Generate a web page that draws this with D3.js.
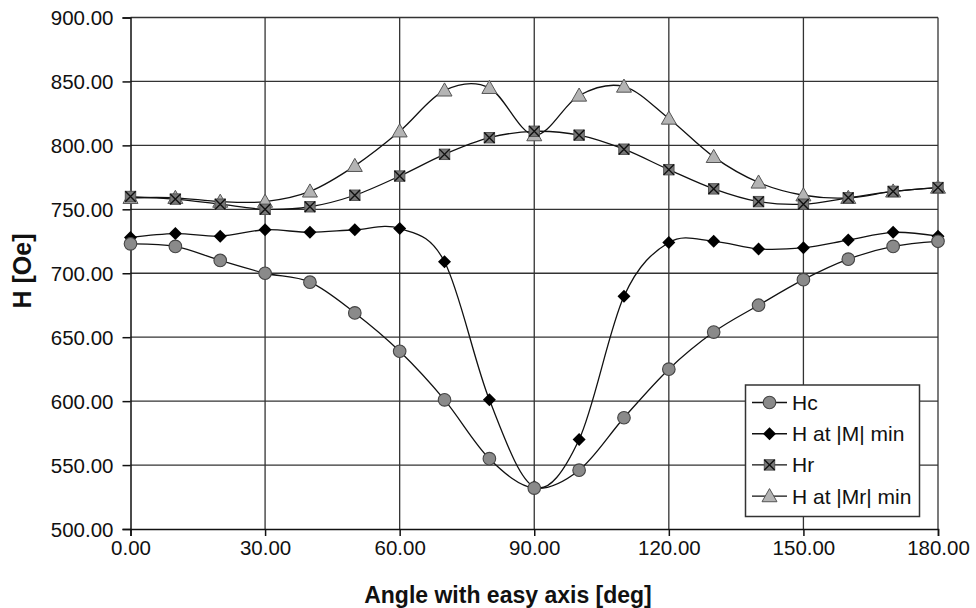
<!DOCTYPE html>
<html>
<head>
<meta charset="utf-8">
<script src="https://cdn.jsdelivr.net/npm/d3@7"></script>
<style>
html,body{margin:0;padding:0;background:#fff;}
svg{display:block;font-family:"Liberation Sans",Arial,sans-serif;}
</style>
</head>
<body>
<svg id="chart" width="976" height="608"></svg>
<script>
const angles = [0,10,20,30,40,50,60,70,80,90,100,110,120,130,140,150,160,170,180];
const Hc    = [723,721,710,700,693,669,639,601,555,532,546,587,625,654,675,695,711,721,725];
const HatM  = [728,731,729,734,732,734,735,709,601,533,570,682,724,725,719,720,726,732,729];
const Hr    = [760,758,754,750,752,761,776,793,806,811,808,797,781,766,756,754,759,764,767];
const HatMr = [759,759,756,756,764,784,811,843,845,808,839,846,821,791,771,761,759,764,767];
const xTicks = [0,30,60,90,120,150,180];
const yTicks = [500,550,600,650,700,750,800,850,900];
const seriesNames = ["Hc","H at |M| min","Hr","H at |Mr| min"];

const svg = d3.select("#chart");
const L = 130.5, R = 938, T = 17.5, B = 529;
const x = d3.scaleLinear().domain([0,180]).range([L,R]);
const y = d3.scaleLinear().domain([500,900]).range([B,T]);

// grid
const grid = svg.append("g");
grid.selectAll("line.h").data(yTicks.slice(1)).join("line")
  .attr("x1",L).attr("x2",R).attr("y1",d=>y(d)).attr("y2",d=>y(d))
  .attr("stroke","#333").attr("stroke-width",1.3);
grid.selectAll("line.v").data(xTicks.slice(1)).join("line")
  .attr("y1",T).attr("y2",B).attr("x1",d=>x(d)).attr("x2",d=>x(d))
  .attr("stroke","#333").attr("stroke-width",1.3);

// axes
const xAxis = d3.axisBottom(x).tickValues(xTicks).tickFormat(d3.format(".2f")).tickSize(7).tickPadding(4);
const yAxis = d3.axisLeft(y).tickValues(yTicks).tickFormat(d3.format(".2f")).tickSize(8).tickPadding(9);
const gx = svg.append("g").attr("transform",`translate(0,${B})`).call(xAxis);
const gy = svg.append("g").attr("transform",`translate(${L},0)`).call(yAxis);
[gx,gy].forEach(g=>{
  g.select(".domain").attr("stroke","#111").attr("stroke-width",1.5);
  g.selectAll(".tick line").attr("stroke","#111").attr("stroke-width",1.5);
  g.selectAll(".tick text").attr("fill","#111").style("font-size","20.5px").style("font-family","'Liberation Sans',Arial,sans-serif");
});
gy.selectAll(".tick text").attr("dy","0.35em");

// titles
svg.append("text").attr("x",508).attr("y",603).attr("text-anchor","middle")
  .style("font-size","23px").style("font-weight","bold").attr("fill","#111")
  .text("Angle with easy axis [deg]");
svg.append("text").attr("transform","translate(31,271) rotate(-90)").attr("text-anchor","middle")
  .style("font-size","25px").style("font-weight","bold").attr("fill","#111")
  .text("H [Oe]");

const line = d3.line().curve(d3.curveCardinal.tension(0)).x(d=>x(d[0])).y(d=>y(d[1]));
const mk = vals => angles.map((a,i)=>[a,vals[i]]);

function drawMarker(g, type, cx, cy){
  if(type==="circle"){
    g.append("circle").attr("cx",cx).attr("cy",cy).attr("r",6.3)
      .attr("fill","#8a8a8a").attr("stroke","#444").attr("stroke-width",1.1);
  } else if(type==="diamond"){
    const s=6.5;
    g.append("path").attr("d",`M${cx},${cy-s}L${cx+s},${cy}L${cx},${cy+s}L${cx-s},${cy}Z`)
      .attr("fill","#000");
  } else if(type==="square"){
    const s=5.2;
    g.append("rect").attr("x",cx-s).attr("y",cy-s).attr("width",2*s).attr("height",2*s)
      .attr("fill","#777").attr("stroke","#555").attr("stroke-width",1);
    g.append("path").attr("d",`M${cx-s},${cy-s}L${cx+s},${cy+s}M${cx+s},${cy-s}L${cx-s},${cy+s}`)
      .attr("stroke","#111").attr("stroke-width",1.4);
  } else if(type==="triangle"){
    const s=7.5;
    g.append("path").attr("d",`M${cx},${cy-s}L${cx+s},${cy+s*0.75}L${cx-s},${cy+s*0.75}Z`)
      .attr("fill","#b4b4b4").attr("stroke","#555").attr("stroke-width",1);
  }
}

const series = [
  {name:seriesNames[1], vals:HatM, type:"diamond"},
  {name:seriesNames[0], vals:Hc, type:"circle"},
  {name:seriesNames[3], vals:HatMr, type:"triangle"},
  {name:seriesNames[2], vals:Hr, type:"square"}
];
series.forEach(s=>{
  svg.append("path").datum(mk(s.vals)).attr("d",line)
    .attr("fill","none").attr("stroke","#111").attr("stroke-width",1.3);
});
series.forEach(s=>{
  const g = svg.append("g");
  mk(s.vals).forEach(p=>drawMarker(g, s.type, x(p[0]), y(p[1])));
});

// legend
const lg = svg.append("g");
lg.append("rect").attr("x",745.5).attr("y",385).attr("width",174).attr("height",131.5)
  .attr("fill","#fff").attr("stroke","#333").attr("stroke-width",1.5);
const legendItems = [
  {name:seriesNames[0], type:"circle"},
  {name:seriesNames[1], type:"diamond"},
  {name:seriesNames[2], type:"square"},
  {name:seriesNames[3], type:"triangle"}
];
legendItems.forEach((it,i)=>{
  const cy = 402.5 + i*31.2;
  lg.append("line").attr("x1",752).attr("x2",787).attr("y1",cy).attr("y2",cy)
    .attr("stroke","#111").attr("stroke-width",1.4);
  drawMarker(lg, it.type, 769.5, cy);
  lg.append("text").attr("x",792).attr("y",cy).attr("dy","0.36em")
    .style("font-size","21px").attr("fill","#111").text(it.name);
});
</script>
</body>
</html>
